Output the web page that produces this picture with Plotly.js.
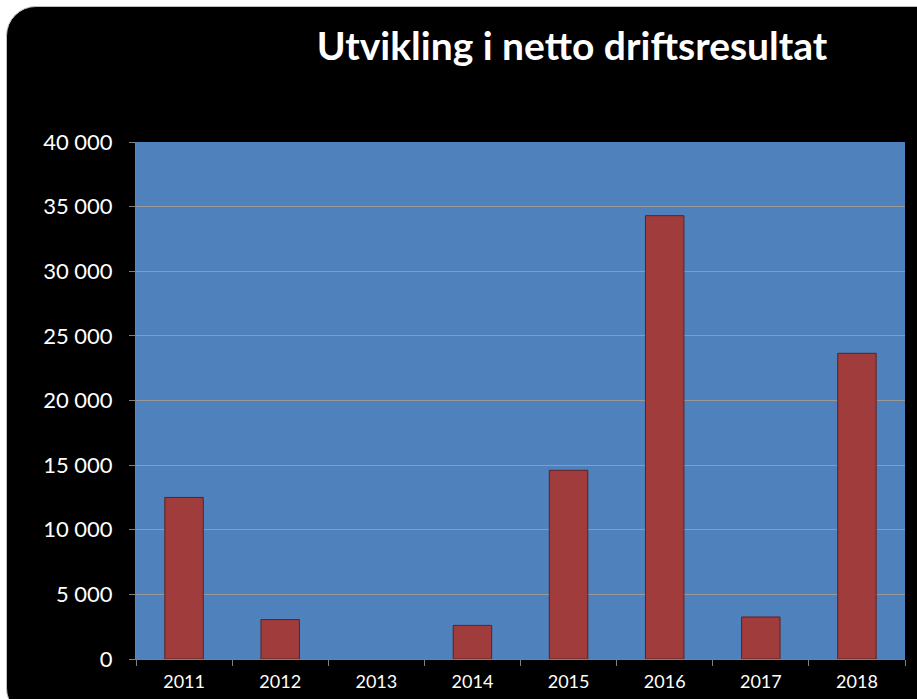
<!DOCTYPE html>
<html>
<head>
<meta charset="utf-8">
<script src="https://cdn.plot.ly/plotly-3.0.1.min.js"></script>
<style>
  html, body { margin: 0; padding: 0; background: #ffffff; overflow: hidden; }
  #frame { position: absolute; left: 6px; top: 6px; width: 940px; height: 710px;
           background: #000000; border-radius: 30px; border: 1px solid #bfbfbf; }
  #chart { position: absolute; left: 0; top: 0; width: 917px; height: 699px; }
</style>
</head>
<body>
<div id="frame"></div>
<div id="chart"></div>
<script>
const years = ['2011', '2012', '2013', '2014', '2015', '2016', '2017', '2018'];
const values = [12500, 3050, 0, 2600, 14600, 34300, 3250, 23650];
const yTicks = [0, 5000, 10000, 15000, 20000, 25000, 30000, 35000, 40000];
const yTickText = ['0', '5 000', '10 000', '15 000', '20 000', '25 000', '30 000', '35 000', '40 000'];
const titleText = 'Utvikling i netto driftsresultat';

const trace = {
  type: 'bar',
  x: years,
  y: values,
  marker: {
    color: '#a03c3c',
    line: { color: '#5e2020', width: values.map(v => (v === 0 ? 0 : 1)) }
  },
  hoverinfo: 'x+y'
};

const layout = {
  width: 917, height: 699,
  margin: { l: 136, r: 12, t: 142, b: 40 },
  paper_bgcolor: 'rgba(0,0,0,0)',
  plot_bgcolor: '#4f81bd',
  bargap: 0.6,
  showlegend: false,
  font: { family: 'Lato, "Open Sans", sans-serif', color: '#ffffff' },
  title: {
    text: '<b>' + titleText + '</b>',
    font: { size: 39, color: '#ffffff', family: 'Lato, "Open Sans", sans-serif' },
    x: 572 / 917, xanchor: 'center', xref: 'container',
    y: 1 - 46 / 699, yanchor: 'middle', yref: 'container'
  },
  xaxis: {
    type: 'category',
    tickson: 'boundaries',
    ticks: 'outside', ticklen: 6, tickcolor: '#808080', tickwidth: 1,
    showline: true, linecolor: '#808080', linewidth: 1,
    showgrid: false,
    ticklabelstandoff: 6,
    tickfont: { size: 18, color: '#ffffff' },
    fixedrange: true
  },
  yaxis: {
    range: [0, 40000],
    tickvals: yTicks, ticktext: yTickText,
    ticks: 'outside', ticklen: 6, tickcolor: '#808080', tickwidth: 1,
    showline: true, linecolor: '#808080', linewidth: 1,
    showgrid: true, gridcolor: '#999999', gridwidth: 1,
    zeroline: false,
    ticklabelstandoff: 12,
    tickfont: { size: 22, color: '#ffffff' },
    fixedrange: true
  }
};

Plotly.newPlot('chart', [trace], layout, { displayModeBar: false, staticPlot: true });
</script>
</body>
</html>
